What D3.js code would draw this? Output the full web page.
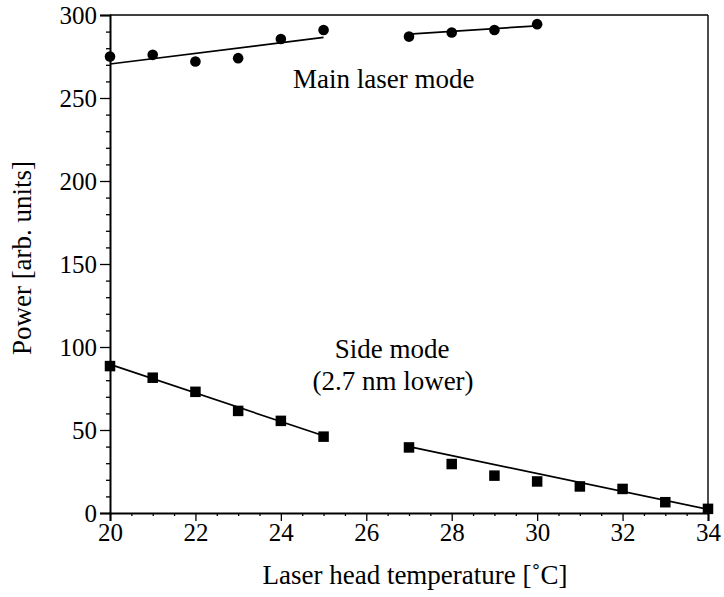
<!DOCTYPE html>
<html>
<head>
<meta charset="utf-8">
<script src="https://cdn.jsdelivr.net/npm/d3@7"></script>
<style>
  html, body { margin: 0; padding: 0; background: #fff; }
  svg { display: block; }
  svg text { font-family: "Liberation Serif", "Times New Roman", serif !important; fill: #000; }
</style>
</head>
<body>
<svg id="chart" width="724" height="597"></svg>
<script>
// ---- data ----
const mainTempsA = [20, 21, 22, 23, 24, 25];
const mainPowerA = [275, 276, 272, 274, 285.5, 291];
const mainTempsB = [27, 28, 29, 30];
const mainPowerB = [287, 289.5, 291, 294.5];
const sideTempsA = [20, 21, 22, 23, 24, 25];
const sidePowerA = [88.5, 81.5, 73, 61.5, 55.5, 46];
const sideTempsB = [27, 28, 29, 30, 31, 32, 33, 34];
const sidePowerB = [39.5, 29.5, 22.5, 19, 16, 14.5, 6.5, 2.5];
// fitted lines: [startTemp, startPower, endTemp, endPower]
const mainFitA = [20, 270.5, 25, 286.5];
const mainFitB = [27, 288.5, 30, 293.5];
const sideFitA = [20, 89.5, 25, 46.5];
const sideFitB = [27, 40, 34, 2.2];
const xTicks = [20, 22, 24, 26, 28, 30, 32, 34];
const yTicks = [0, 50, 100, 150, 200, 250, 300];

const FONT = "'Liberation Serif', 'Times New Roman', serif";
const svg = d3.select("#chart");
const mLeft = 110, mRight = 708, mTop = 15, mBottom = 513;
const x = d3.scaleLinear().domain([20, 34]).range([mLeft, mRight]);
const y = d3.scaleLinear().domain([0, 300]).range([mBottom, mTop]);

// frame top and right
svg.append("line").attr("x1", mLeft).attr("x2", mRight).attr("y1", mTop).attr("y2", mTop)
  .attr("stroke", "#000").attr("stroke-width", 1.4);
svg.append("line").attr("x1", mRight).attr("x2", mRight).attr("y1", mTop).attr("y2", mBottom)
  .attr("stroke", "#000").attr("stroke-width", 1.4);

// x axis
const xMinor = d3.range(20, 34.01, 0.5).filter(v => !xTicks.includes(v));
const gx = svg.append("g").attr("transform", `translate(0,${mBottom})`);
gx.call(d3.axisBottom(x).tickValues(xMinor).tickSize(3).tickFormat(""))
  .call(g => g.select(".domain").remove());
const gx2 = svg.append("g").attr("transform", `translate(0,${mBottom})`);
gx2.call(d3.axisBottom(x).tickValues(xTicks).tickSize(8).tickPadding(2).tickFormat(d3.format("d")));
gx2.attr("font-family", null).attr("font-size", null).style("font-family", FONT).style("font-size", "25px");
gx2.selectAll("text").style("font-family", FONT).style("font-size", "25px");
gx2.select(".domain").attr("stroke-width", 2);

// y axis
const yMinor = d3.range(0, 301, 10).filter(v => !yTicks.includes(v));
const gy = svg.append("g").attr("transform", `translate(${mLeft},0)`);
gy.call(d3.axisLeft(y).tickValues(yMinor).tickSize(4).tickFormat(""))
  .call(g => g.select(".domain").remove());
const gy2 = svg.append("g").attr("transform", `translate(${mLeft},0)`);
gy2.call(d3.axisLeft(y).tickValues(yTicks).tickSize(10).tickPadding(3).tickFormat(d3.format("d")));
gy2.attr("font-family", null).attr("font-size", null).style("font-family", FONT).style("font-size", "25px");
gy2.selectAll("text").style("font-family", FONT).style("font-size", "25px");
gy2.select(".domain").attr("stroke-width", 2);
svg.selectAll(".tick line").attr("stroke-width", 1.3);

// fit lines
[mainFitA, mainFitB, sideFitA, sideFitB].forEach(f => {
  svg.append("line")
    .attr("x1", x(f[0])).attr("y1", y(f[1]))
    .attr("x2", x(f[2])).attr("y2", y(f[3]))
    .attr("stroke", "#000").attr("stroke-width", 1.7);
});

// circles
const mainPts = mainTempsA.map((t, i) => [t, mainPowerA[i]])
  .concat(mainTempsB.map((t, i) => [t, mainPowerB[i]]));
svg.append("g").selectAll("circle").data(mainPts).join("circle")
  .attr("cx", d => x(d[0])).attr("cy", d => y(d[1])).attr("r", 5.3).attr("fill", "#000");

// squares
const sidePts = sideTempsA.map((t, i) => [t, sidePowerA[i]])
  .concat(sideTempsB.map((t, i) => [t, sidePowerB[i]]));
const s = 10.5;
svg.append("g").selectAll("rect").data(sidePts).join("rect")
  .attr("x", d => x(d[0]) - s / 2).attr("y", d => y(d[1]) - s / 2)
  .attr("width", s).attr("height", s).attr("fill", "#000");

// annotations
svg.append("text").attr("x", 293).attr("y", 88).style("font-size", "27px").text("Main laser mode");
svg.append("text").attr("x", 392).attr("y", 358).attr("text-anchor", "middle").style("font-size", "27px").text("Side mode");
svg.append("text").attr("x", 393).attr("y", 390).attr("text-anchor", "middle").style("font-size", "27px").text("(2.7 nm lower)");

// axis titles
svg.append("text").attr("x", 415).attr("y", 584).attr("text-anchor", "middle")
  .style("font-size", "27px").text("Laser head temperature [˚C]");
svg.append("text").attr("transform", `translate(31,258) rotate(-90)`)
  .attr("text-anchor", "middle").style("font-size", "27px").text("Power [arb. units]");
</script>
</body>
</html>
